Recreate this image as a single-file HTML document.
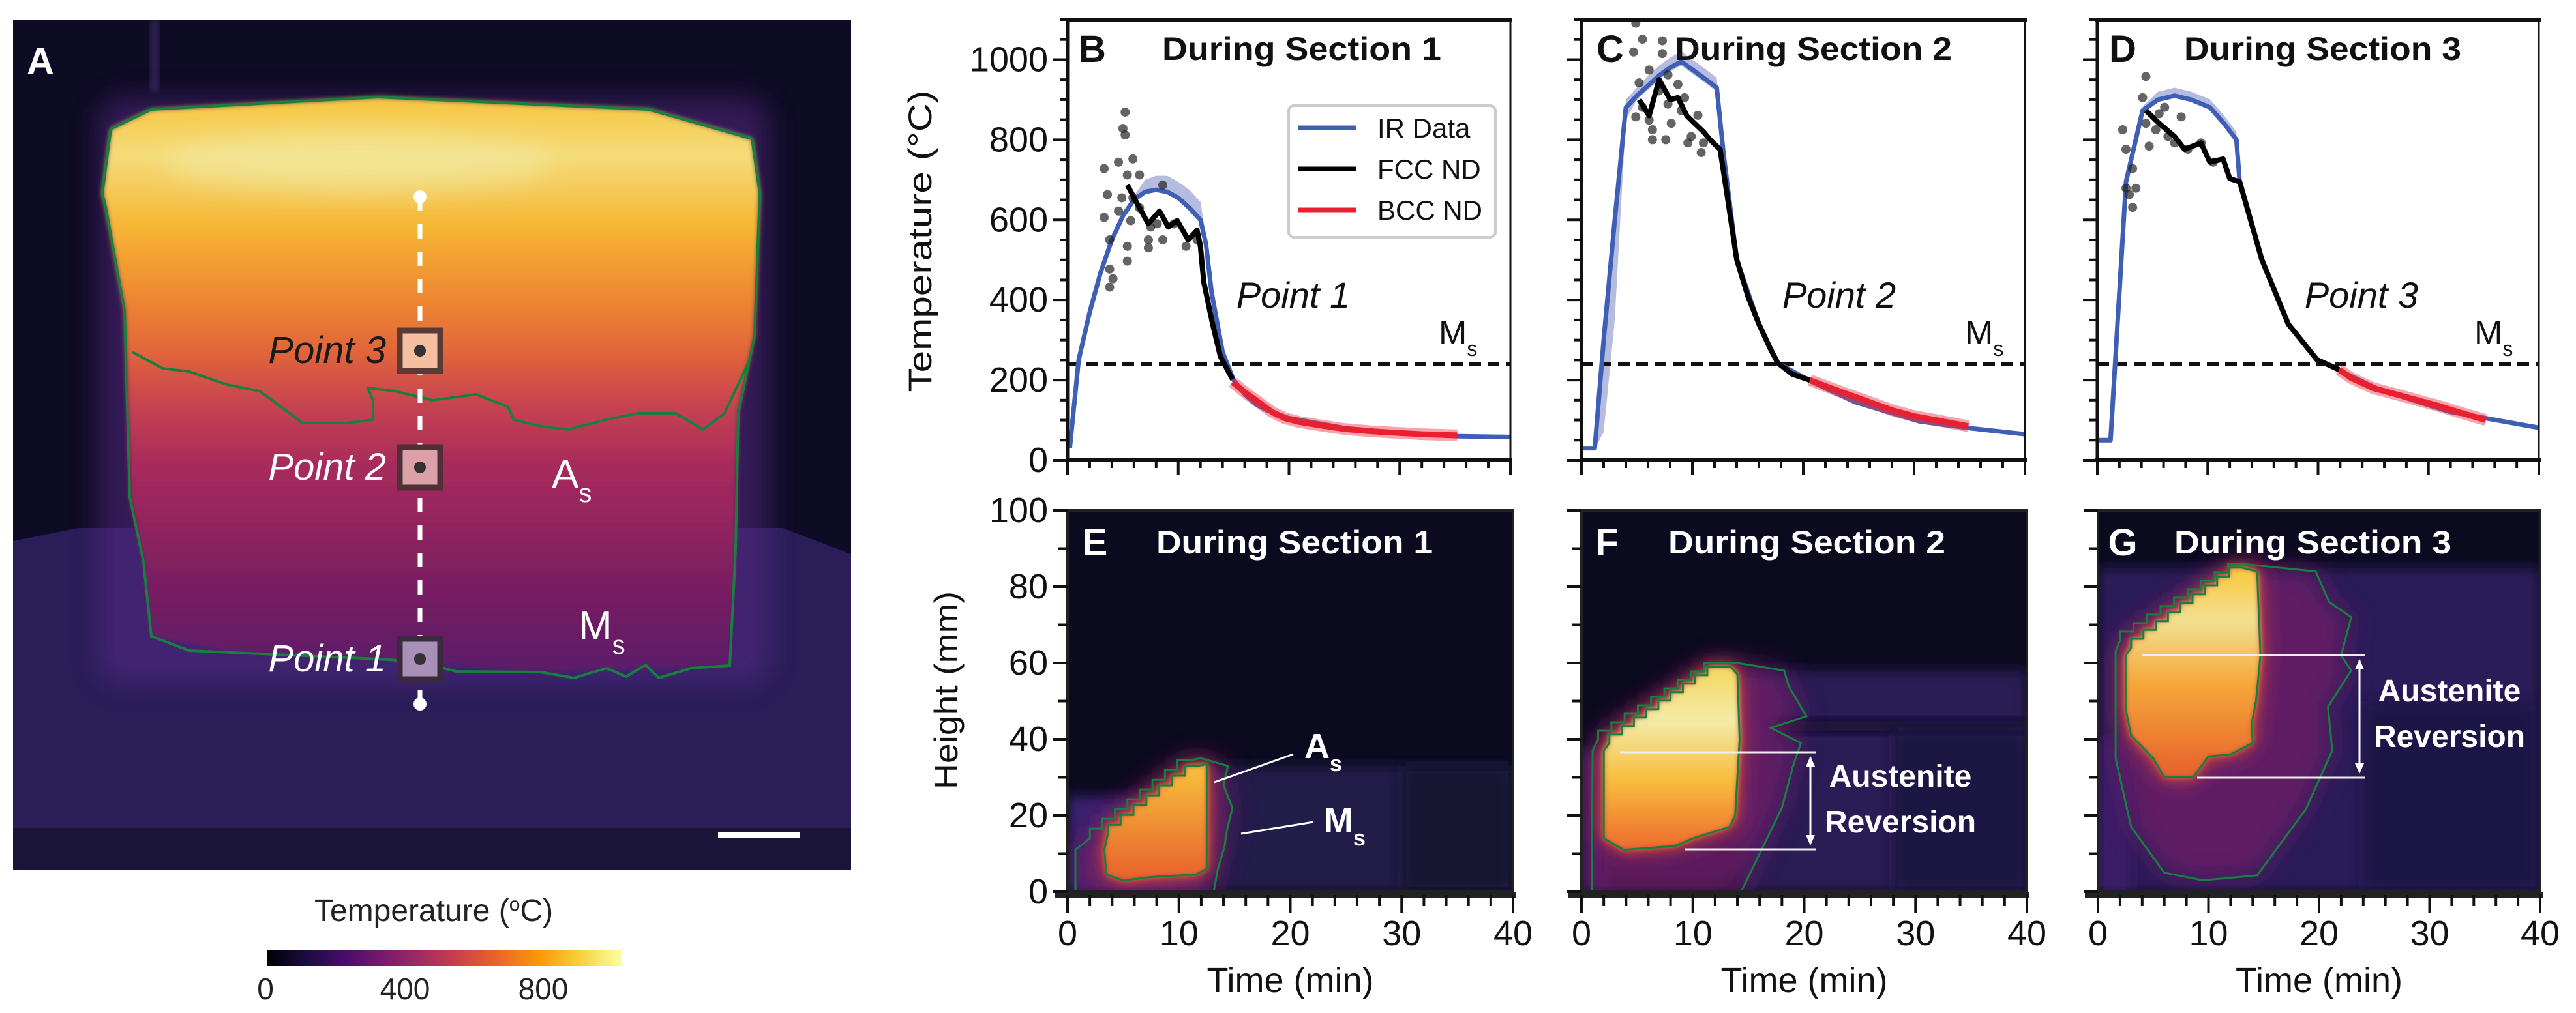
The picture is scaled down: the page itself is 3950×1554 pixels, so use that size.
<!DOCTYPE html>
<html><head><meta charset="utf-8"><title>Figure</title>
<style>
html,body{margin:0;padding:0;background:#fff;}
svg{display:block;}
text{font-family:"Liberation Sans",sans-serif;}
</style></head>
<body>
<svg id="fig" xmlns="http://www.w3.org/2000/svg" width="3950" height="1554" viewBox="0 0 3950 1554">
<defs>
  <linearGradient id="blockGrad" x1="0" y1="0" x2="0" y2="1">
    <stop offset="0" stop-color="#f6c43e"/>
    <stop offset="0.1" stop-color="#f4dc7a"/>
    <stop offset="0.22" stop-color="#f6b836"/>
    <stop offset="0.34" stop-color="#f08a30"/>
    <stop offset="0.44" stop-color="#e2663a"/>
    <stop offset="0.53" stop-color="#c84450"/>
    <stop offset="0.64" stop-color="#a82a5c"/>
    <stop offset="0.85" stop-color="#7a1e62"/>
    <stop offset="1" stop-color="#5b1a68"/>
  </linearGradient>
  <linearGradient id="cbGrad" x1="0" y1="0" x2="1" y2="0">
    <stop offset="0" stop-color="#000004"/>
    <stop offset="0.11" stop-color="#1b0c41"/>
    <stop offset="0.22" stop-color="#4a0c6b"/>
    <stop offset="0.33" stop-color="#781c6d"/>
    <stop offset="0.44" stop-color="#a52c60"/>
    <stop offset="0.55" stop-color="#cf4446"/>
    <stop offset="0.66" stop-color="#ed6925"/>
    <stop offset="0.77" stop-color="#fb9b06"/>
    <stop offset="0.88" stop-color="#f7d13d"/>
    <stop offset="1" stop-color="#fcffa4"/>
  </linearGradient>
  <linearGradient id="hotE" x1="0" y1="0" x2="0" y2="1">
    <stop offset="0" stop-color="#f8c23c"/><stop offset="1" stop-color="#e8602c"/>
  </linearGradient>
  <linearGradient id="hotF" x1="0" y1="0" x2="0" y2="1">
    <stop offset="0" stop-color="#f6d860"/><stop offset="0.3" stop-color="#f2eaa8"/>
    <stop offset="0.6" stop-color="#f8c040"/><stop offset="1" stop-color="#ee6a2c"/>
  </linearGradient>
  <linearGradient id="hotG" x1="0" y1="0" x2="0" y2="1">
    <stop offset="0" stop-color="#f8c83c"/><stop offset="0.25" stop-color="#f2e090"/>
    <stop offset="0.55" stop-color="#f6a83a"/><stop offset="1" stop-color="#e6602c"/>
  </linearGradient>
  <filter id="blur20" x="-30%" y="-30%" width="160%" height="160%"><feGaussianBlur stdDeviation="20"/></filter>
  <filter id="blur8" x="-40%" y="-40%" width="180%" height="180%"><feGaussianBlur stdDeviation="10"/></filter>
  <filter id="blur4"><feGaussianBlur stdDeviation="4"/></filter>
  <clipPath id="clipA"><rect x="20" y="30" width="1285" height="1305"/></clipPath>
  <clipPath id="clipE"><rect x="1637" y="783" width="683" height="585"/></clipPath>
  <clipPath id="clipF"><rect x="2425" y="783" width="683" height="585"/></clipPath>
  <clipPath id="clipG"><rect x="3217" y="783" width="678" height="585"/></clipPath>
</defs>

<!-- Panel A -->
<g id="panelA" clip-path="url(#clipA)">
  <rect x="20" y="30" width="1285" height="1305" fill="#0e0b24"/>
  <rect x="230" y="30" width="14" height="110" fill="#3a2c66" opacity="0.7" filter="url(#blur4)"/>
  <polygon points="20,830 120,810 1200,810 1305,850 1305,1335 20,1335" fill="#2a1d58"/>
  <rect x="20" y="1270" width="1285" height="65" fill="#1a1438"/>
  <rect x="150" y="150" width="1030" height="900" rx="40" fill="#5a2a8a" opacity="0.5" filter="url(#blur20)"/>
  <path d="M157,297 L170,198 L232,168 L580,149 L995,168 L1153,213 L1165,297 L1157,515 L1132,634 L1128,842 L1119,1021 L829,1031 L580,1011 L357,1001 L232,976 L220,862 L199,763 L191,476 L162,317 Z" fill="url(#blockGrad)" filter="url(#blur4)"/>
  <ellipse cx="550" cy="250" rx="300" ry="45" fill="#f2ecaa" opacity="0.55" filter="url(#blur20)"/>
  <path d="M157,297 L170,198 L232,168 L580,149 L995,168 L1153,213 L1165,297 L1157,515 L1132,634 L1128,842 L1119,1021 L1060,1025 L1010,1040 L990,1020 L960,1038 L930,1025 L880,1040 L829,1031 L700,1030 L640,1015 L580,1011 L357,1001 L290,998 L232,976 L220,862 L199,763 L191,476 L162,317 Z" fill="none" stroke="#17803e" stroke-width="4"/>
  <path d="M203,540 L249,565 L290,570 L348,590 L398,600 L431,624 L464,649 L531,649 L572,644 L572,614 L564,595 L605,600 L663,614 L730,605 L779,624 L788,644 L829,654 L871,659 L929,644 L978,634 L1036,634 L1078,659 L1111,634 L1148,555" fill="none" stroke="#17803e" stroke-width="4"/>
  <line x1="644" y1="302" x2="644" y2="1080" stroke="#fff" stroke-width="7" stroke-dasharray="22,20"/>
  <circle cx="644" cy="302" r="10" fill="#fff"/>
  <circle cx="644" cy="1080" r="10" fill="#fff"/>
  <g>
    <rect x="613" y="507" width="62" height="62" fill="#f5c0a0" stroke="#5a3a35" stroke-width="9"/>
    <circle cx="644" cy="538" r="9" fill="#333"/>
  </g>
  <g>
    <rect x="613" y="686" width="62" height="62" fill="#dba0a8" stroke="#4e3036" stroke-width="9"/>
    <circle cx="644" cy="717" r="9" fill="#333"/>
  </g>
  <g>
    <rect x="613" y="980" width="62" height="62" fill="#a890b8" stroke="#3a2a3e" stroke-width="9"/>
    <circle cx="644" cy="1011" r="9" fill="#333"/>
  </g>
  <text x="592" y="557" font-size="58" font-style="italic" fill="#1a1a1a" text-anchor="end">Point 3</text>
  <text x="592" y="736" font-size="58" font-style="italic" fill="#fff" text-anchor="end">Point 2</text>
  <text x="592" y="1030" font-size="58" font-style="italic" fill="#fff" text-anchor="end">Point 1</text>
  <text x="846" y="748" font-size="62" fill="#fff">A<tspan font-size="40" dy="22">s</tspan></text>
  <text x="887" y="981" font-size="62" fill="#fff">M<tspan font-size="40" dy="22">s</tspan></text>
  <rect x="1101" y="1277" width="126" height="8" fill="#fff"/>
  <text x="41" y="114" font-size="58" font-weight="bold" fill="#fff">A</text>
</g>
<g>
  <text x="665" y="1413" font-size="48" text-anchor="middle" fill="#222">Temperature (<tspan font-size="30" dy="-16">o</tspan><tspan dy="16">C)</tspan></text>
  <rect x="410" y="1457" width="544" height="25" fill="url(#cbGrad)"/>
  <text x="407" y="1533" font-size="46" text-anchor="middle" fill="#222">0</text>
  <text x="621" y="1533" font-size="46" text-anchor="middle" fill="#222">400</text>
  <text x="833" y="1533" font-size="46" text-anchor="middle" fill="#222">800</text>
</g>

<g id="charts"></g>
</svg>

<script>
// ---------- Data: temperature history (time in min, temperature in °C) ----------
const msTemp = 240;
const yTicksTemp = [0, 200, 400, 600, 800, 1000];
const xTicks = [0, 10, 20, 30, 40];
const yTicksHeight = [0, 20, 40, 60, 80, 100];

// Panel B (Point 1)
const bIrTime = [0.2,1,2,3,4,5,6,7,8,9,10,11,12,12.5,13,14,15,16,17,18,20,22,25,30,35,40];
const bIrTemp = [30,250,370,470,550,610,650,670,675,670,655,630,600,540,420,270,200,165,140,125,105,95,80,68,60,58];
const bIrUp   = [0,0,0,0,0,0,10,30,35,40,40,45,45,20,5,0,0,0,0,0,0,0,0,0,0,0];
const bIrDn   = [0,0,0,0,0,0,5,5,5,5,5,5,5,5,0,0,0,0,0,0,0,0,0,0,0,0];
const bFccTime = [5.4,6.3,7.3,8.3,9.1,9.9,10.9,11.7,12,12.3,13.1,13.8,14.9];
const bFccTemp = [687,640,590,622,582,598,550,574,534,445,340,259,202];
const bBccTime = [14.9,16,17,18.5,19.6,21,23.3,25,27.5,30,32,35.2];
const bBccTemp = [195,170,150,120,105,95,85,78,72,68,65,62];
const bDotTime = [5.2,5.0,5.2,5.9,4.6,3.3,5.4,6.5,3.6,4.9,5.9,3.3,4.6,5.7,3.8,5.4,7.5,8.6,7.3,8.6,9.6,10.7,3.8,4.1,3.8,5.4,7.3,11.7,8.1,6.5];
const bDotTemp = [869,828,812,752,744,728,712,712,663,655,655,606,622,598,550,534,582,687,550,550,590,534,477,453,432,497,530,550,590,630];

// Panel C (Point 2)
const cIrTime = [0,1.2,2,3,4,5,6,7,8,9,10,11,12.2,12.8,14,16,17.7,20.6,24.7,30.5,35,40];
const cIrTemp = [30,30,300,600,880,910,935,960,980,995,975,955,930,768,501,340,243,198,145,97,80,65];
const cIrUp   = [0,0,0,0,20,20,25,25,25,25,25,25,25,10,0,0,0,0,0,0,0,0];
const cIrDn   = [0,0,230,250,30,10,10,10,10,10,10,10,10,5,0,0,0,0,0,0,0,0];
const cFccTime = [5.2,6.1,7,8,8.7,9.5,10.2,11,11.6,12.5,13.2,14,15,16,17,17.7,19,20.6];
const cFccTemp = [900,860,950,900,905,860,841,820,800,776,650,501,410,340,280,243,215,200];
const cBccTime = [20.6,22,24,26,28,30,32,34.9];
const cBccTemp = [200,185,165,145,125,110,100,85];
const cDotTime = [4.9,5.5,7.3,4.7,7.3,6.1,7.8,5.2,7.0,8.7,5.5,7.8,6.1,9.0,4.9,6.4,8.1,10.5,6.4,9.9,11.0,9.6,10.8,7.6,9.3];
const cDotTemp = [1091,1051,1047,1019,1015,974,962,942,922,938,881,889,849,873,857,825,841,861,800,808,792,792,768,800,905];

// Panel D (Point 3)
const dIrTime = [0,1.2,2.6,4.1,5.5,7,8.5,10.2,11.5,12.6,12.9,14.9,17.3,19.9,25.4,31.9,40];
const dIrTemp = [50,50,695,873,900,910,900,881,840,800,695,501,340,251,178,121,81];
const dIrUp   = [0,0,0,10,20,20,20,20,20,20,0,0,0,0,0,0,0];
const dIrDn   = [0,0,0,5,5,5,5,5,5,5,0,0,0,0,0,0,0];
const dFccTime = [4.4,5.6,7,7.9,9.4,10.2,11.4,12,12.9,14.9,17.3,19.9,21.9];
const dFccTemp = [873,841,808,776,792,744,752,703,695,501,340,251,226];
const dBccTime = [21.9,23,25,27,29,31,33,35.2];
const dBccTemp = [226,205,180,165,150,135,118,100];
const dDotTime = [4.4,4.1,2.3,4.4,5.6,2.6,4.7,3.2,2.6,3.5,2.9,3.2,6.4,7.6,7.0,8.2,9.4,10.5,5.3,6.1];
const dDotTemp = [958,905,825,841,865,776,784,728,679,679,663,631,808,857,792,776,792,744,825,881];

const NS = "http://www.w3.org/2000/svg";
const root = document.getElementById('charts');
function mk(tag, attrs, parent){
  const e = document.createElementNS(NS, tag);
  for (const k in attrs) e.setAttribute(k, attrs[k]);
  (parent||root).appendChild(e);
  return e;
}

const TOP_Y0 = 706, TOP_YT = 30, TMAX = 1100;
function tempAxis(x0, x1){
  return {
    x: t => x0 + (t/40)*(x1-x0),
    y: v => TOP_Y0 - (v/TMAX)*(TOP_Y0-TOP_YT)
  };
}
function pathFrom(ts, vs, ax){
  return ts.map((t,i)=>(i?'L':'M')+ax.x(t).toFixed(1)+','+ax.y(vs[i]).toFixed(1)).join(' ');
}

function tempPanel(cfg){
  const g = mk('g', {});
  
  
  const ax = tempAxis(cfg.x0, cfg.x1);
  let d = '';
  cfg.irT.forEach((t,i)=>{ d += (i?'L':'M') + ax.x(t)+','+ax.y(cfg.irV[i]+cfg.up[i]); });
  for (let i=cfg.irT.length-1;i>=0;i--) d += 'L'+ax.x(cfg.irT[i])+','+ax.y(Math.max(0,cfg.irV[i]-cfg.dn[i]));
  const band = mk('path', {d:d+'Z', fill:'#5a6ab8', opacity:'0.45'}, g);
  
  
  const ms = mk('line', {x1:cfg.x0, x2:cfg.x1, y1:ax.y(msTemp), y2:ax.y(msTemp), stroke:'#111', 'stroke-width':5, 'stroke-dasharray':'18,10'}, g);
  
  
  const ir = mk('path', {d:pathFrom(cfg.irT, cfg.irV, ax), fill:'none', stroke:'#3f5fb5', 'stroke-width':7, 'stroke-linejoin':'round'}, g);
  
  
  cfg.dotT.forEach((t,i)=>{
    const c = mk('circle', {cx:ax.x(t), cy:ax.y(cfg.dotV[i]), r:7, fill:'#222', opacity:'0.7'}, g);
    
    
  });
  const rg = mk('path', {d:pathFrom(cfg.bccT, cfg.bccV, ax), fill:'none', stroke:'#ee3344', 'stroke-width':18, opacity:'0.45', 'stroke-linejoin':'round'}, g);
  
  
  const r = mk('path', {d:pathFrom(cfg.bccT, cfg.bccV, ax), fill:'none', stroke:'#e8202f', 'stroke-width':9, 'stroke-linejoin':'round'}, g);
  
  
  const k = mk('path', {d:pathFrom(cfg.fccT, cfg.fccV, ax), fill:'none', stroke:'#000', 'stroke-width':8, 'stroke-linejoin':'round'}, g);
  
  
  const fr = mk('rect', {x:cfg.x0, y:TOP_YT, width:cfg.x1-cfg.x0, height:TOP_Y0-TOP_YT, fill:'none', stroke:'#111', 'stroke-width':3}, g);
  
  
  mk('line', {x1:cfg.x0-3, x2:cfg.x1+3, y1:TOP_YT, y2:TOP_YT, stroke:'#111', 'stroke-width':6}, g);
  mk('line', {x1:cfg.x0-3, x2:cfg.x1+3, y1:TOP_Y0, y2:TOP_Y0, stroke:'#111', 'stroke-width':6}, g);
  mk('line', {x1:cfg.x0, x2:cfg.x0, y1:TOP_YT, y2:TOP_Y0, stroke:'#111', 'stroke-width':5}, g);
  for (let v=0; v<=1100; v+=50){
    const major = v%200===0;
    mk('line', {x1:cfg.x0-(major?22:12), x2:cfg.x0, y1:ax.y(v), y2:ax.y(v), stroke:'#111', 'stroke-width':4}, g);
  }
  if (cfg.yLabels){
    yTicksTemp.forEach(v=>{
      const t = mk('text', {x:cfg.x0-30, y:ax.y(v)+18, 'font-size':54, 'text-anchor':'end', fill:'#111'}, g);
      
      
      t.textContent = v;
    });
  }
  for (let t=0; t<=40; t+=2){
    const major = t%10===0;
    mk('line', {x1:ax.x(t), x2:ax.x(t), y1:TOP_Y0, y2:TOP_Y0+(major?22:12), stroke:'#111', 'stroke-width':4}, g);
  }
  const L = mk('text', {x:cfg.letterX, y:95, 'font-size':58, 'font-weight':'bold', 'text-anchor':'middle', fill:'#111'}, g);
  
  
  L.textContent = cfg.letter;
  const T = mk('text', {x:cfg.titleX, y:92, 'font-size':50, 'font-weight':'bold', fill:'#111', textLength:cfg.titleW, lengthAdjust:'spacingAndGlyphs'}, g);
  
  
  T.textContent = cfg.title;
  const P = mk('text', {x:cfg.pointX, y:472, 'font-size':56, 'font-style':'italic', 'text-anchor':'middle', fill:'#111'}, g);
  
  
  P.textContent = cfg.point;
  const M = mk('text', {x:cfg.msX, y:528, 'font-size':52, fill:'#111'}, g);
  
  
  M.innerHTML = 'M<tspan font-size="32" dy="18">s</tspan>';
}

tempPanel({name:'panel-b-temperature', x0:1637, x1:2316, irT:bIrTime, irV:bIrTemp, up:bIrUp, dn:bIrDn,
  fccT:bFccTime, fccV:bFccTemp, bccT:bBccTime, bccV:bBccTemp, dotT:bDotTime, dotV:bDotTemp,
  yLabels:true, letter:'B', letterX:1675, title:'During Section 1', titleX:1782, titleW:428, point:'Point 1', pointX:1983, msX:2206});
tempPanel({name:'panel-c-temperature', x0:2425, x1:3105, irT:cIrTime, irV:cIrTemp, up:cIrUp, dn:cIrDn,
  fccT:cFccTime, fccV:cFccTemp, bccT:cBccTime, bccV:cBccTemp, dotT:cDotTime, dotV:cDotTemp,
  yLabels:false, letter:'C', letterX:2469, title:'During Section 2', titleX:2568, titleW:425, point:'Point 2', pointX:2820, msX:3013});
tempPanel({name:'panel-d-temperature', x0:3216, x1:3893, irT:dIrTime, irV:dIrTemp, up:dIrUp, dn:dIrDn,
  fccT:dFccTime, fccV:dFccTemp, bccT:dBccTime, bccV:dBccTemp, dotT:dDotTime, dotV:dDotTemp,
  yLabels:false, letter:'D', letterX:3255, title:'During Section 3', titleX:3349, titleW:425, point:'Point 3', pointX:3621, msX:3794});

const yt = mk('text', {x:0, y:0, transform:'translate(1428,370) rotate(-90)', 'font-size':50, 'text-anchor':'middle', fill:'#111', textLength:463, lengthAdjust:'spacingAndGlyphs'});


yt.textContent = 'Temperature (°C)';

const lg = mk('g', {});


mk('rect', {x:1976, y:162, width:317, height:202, rx:8, fill:'#fff', stroke:'#ccc', 'stroke-width':4}, lg);
const legendNames = ['IR Data','FCC ND','BCC ND'];
const legendColors = ['#3f5fb5','#000','#e8202f'];
legendNames.forEach((n,i)=>{
  const y = 196 + i*63;
  const ln = mk('line', {x1:1990, x2:2080, y1:y, y2:y, stroke:legendColors[i], 'stroke-width':7}, lg);
  
  
  const tx = mk('text', {x:2112, y:y+15, 'font-size':42, fill:'#111'}, lg);
  
  
  tx.textContent = n;
});

// ---------- Heatmaps ----------
const HB_Y0 = 1368, HB_YT = 783;
function hAxis(x0, x1){
  return { x: t => x0 + (t/40)*(x1-x0), y: h => HB_Y0 - (h/100)*(HB_Y0-HB_YT) };
}
function stairs(p0, p1, n){
  const pts = [];
  const dt = (p1[0]-p0[0])/n, dh = (p1[1]-p0[1])/n;
  for (let i=0;i<n;i++){
    pts.push([p0[0]+i*dt, p0[1]+i*dh]);
    pts.push([p0[0]+i*dt, p0[1]+(i+1)*dh]);
  }
  pts.push([p1[0], p1[1]]);
  return pts;
}
function poly(pts, ax){ return pts.map((p,i)=>(i?'L':'M')+ax.x(p[0]).toFixed(1)+','+ax.y(p[1]).toFixed(1)).join(' ')+'Z'; }

function heatPanel(cfg){
  const g = mk('g', {});
  
  
  const ax = hAxis(cfg.x0, cfg.x1);
  const c = mk('g', {'clip-path':'url(#'+cfg.clip+')'}, g);
  mk('rect', {x:cfg.x0, y:HB_YT, width:cfg.x1-cfg.x0+8, height:HB_Y0-HB_YT, fill:'#0b0a1f'}, c);
  cfg.bg.forEach(b=>{
    mk('rect', {x:ax.x(b[0]), y:ax.y(b[3]), width:ax.x(b[2])-ax.x(b[0]), height:ax.y(b[1])-ax.y(b[3]), fill:b[4], filter:'url(#blur8)'}, c);
  });
  const outerD = poly(cfg.outer, ax), hotD = poly(cfg.hot, ax);
  mk('path', {d:outerD, fill:'#6a1c68', opacity:'0.85', filter:'url(#blur20)'}, c);
  mk('path', {d:hotD, fill:'#b83a50', filter:'url(#blur20)'}, c);
  mk('path', {d:hotD, fill:'#d8482e', filter:'url(#blur8)'}, c);
  mk('path', {d:hotD, fill:'url(#'+cfg.grad+')', filter:'url(#blur4)'}, c);
  const oc = mk('path', {d:outerD, fill:'none', stroke:'#17803e', 'stroke-width':3}, c);
  
  
  const hc = mk('path', {d:hotD, fill:'none', stroke:'#17803e', 'stroke-width':3}, c);
  
  
  mk('rect', {x:cfg.x0, y:HB_YT, width:cfg.x1-cfg.x0, height:HB_Y0-HB_YT, fill:'none', stroke:'#222', 'stroke-width':4}, g);
  mk('line', {x1:cfg.x0-20, x2:cfg.x1+4, y1:HB_Y0+5, y2:HB_Y0+5, stroke:'#222', 'stroke-width':8}, g);
  for (let h=0; h<=100; h+=10){
    mk('line', {x1:cfg.x0-(h%20===0?22:14), x2:cfg.x0, y1:ax.y(h), y2:ax.y(h), stroke:'#111', 'stroke-width':4}, g);
  }
  for (let t=0; t<=40; t+=2){
    mk('line', {x1:ax.x(t), x2:ax.x(t), y1:HB_Y0+5, y2:HB_Y0+(t%10===0?32:22), stroke:'#111', 'stroke-width':4}, g);
  }
  xTicks.forEach(t=>{
    const tx = mk('text', {x:ax.x(t), y:1450, 'font-size':54, 'text-anchor':'middle', fill:'#111'}, g);
    
    
    tx.textContent = t;
  });
  if (cfg.yLabels){
    yTicksHeight.forEach(h=>{
      const tx = mk('text', {x:cfg.x0-30, y:ax.y(h)+18, 'font-size':54, 'text-anchor':'end', fill:'#111'}, g);
      
      
      tx.textContent = h;
    });
  }
  const xt = mk('text', {x:(cfg.x0+cfg.x1)/2, y:1522, 'font-size':54, 'text-anchor':'middle', fill:'#111'}, g);
  
  
  xt.textContent = 'Time (min)';
  const L = mk('text', {x:cfg.letterX, y:852, 'font-size':58, 'font-weight':'bold', 'text-anchor':'middle', fill:'#fff'}, g);
  
  
  L.textContent = cfg.letter;
  const T = mk('text', {x:cfg.titleX, y:849, 'font-size':50, 'font-weight':'bold', fill:'#fff', textLength:cfg.titleW, lengthAdjust:'spacingAndGlyphs'}, g);
  
  
  T.textContent = cfg.title;
  return {g, ax};
}

heatPanel({name:'panel-e-heatmap', clip:'clipE', x0:1637, x1:2320, yLabels:true, grad:'hotE',
  letter:'E', letterX:1679, title:'During Section 1', titleX:1773, titleW:424,
  bg:[[0,0,12.5,25,'#3b2470'],[12,0,40,33,'#221a4a'],[30,0,40,33,'#151232']],
  outer:[[0.7,-2],[0.7,11]].concat(stairs([2,14],[11,34.5],8)).concat([[12,35],[14.4,33],[14,28],[14.8,22],[14.3,16],[14.1,12],[13.5,6],[13,-2]]),
  hot:[[5,3],[3.5,4.5],[3.3,11]].concat(stairs([3.6,15],[11.7,33],7)).concat([[12.5,33.5],[12.5,6],[11.5,4.5],[8,4]])});
heatPanel({name:'panel-f-heatmap', clip:'clipF', x0:2425, x1:3108, yLabels:false, grad:'hotF',
  letter:'F', letterX:2464, title:'During Section 2', titleX:2558, titleW:425,
  bg:[[0,0,2.5,37,'#4a1a60'],[14,0,40,58,'#2a1d55'],[17,42,40,45,'#0f0b25'],[28,0,40,42,'#1c1642']],
  outer:[[0.9,-2],[1,37]].concat(stairs([1.5,40],[12.2,60],9)).concat([[14,60],[18.2,58],[18.6,54],[20.2,46],[17,43],[19.7,39],[19,33],[18,22],[16,10],[14,-2]]),
  hot:[[2,14],[2,37]].concat(stairs([2.5,39],[12.4,59],9)).concat([[13.4,59],[14,57],[14.2,40],[13.8,20],[13.3,17],[10,14],[8.4,12],[3.8,11]])});
heatPanel({name:'panel-g-heatmap', clip:'clipG', x0:3217, x1:3895, yLabels:false, grad:'hotG',
  letter:'G', letterX:3255, title:'During Section 3', titleX:3334, titleW:425,
  bg:[[0,0,40,85,'#2a1d58'],[24,0,40,50,'#1e1646'],[0,0,3,40,'#3a1e66']],
  outer:[[1.6,35],[1.6,63]].concat(stairs([2,66],[13,86],9)).concat([[19.7,84],[20.9,76],[22.9,72],[22,62],[22.9,58],[20.8,48.5],[21.2,37],[18.8,21.6],[14.4,4.3],[9.5,3],[6,5],[3,17]]),
  hot:[[2.5,48],[2.5,62]].concat(stairs([3,64],[13,85],9)).concat([[14.4,84],[14.7,62],[14.3,50],[13.9,44],[14,39],[12,36],[10,35.5],[8.6,30],[6,30],[5,35],[3,41]])});

const ht = mk('text', {x:0, y:0, transform:'translate(1468,1059) rotate(-90)', 'font-size':50, 'text-anchor':'middle', fill:'#111', textLength:304, lengthAdjust:'spacingAndGlyphs'});


ht.textContent = 'Height (mm)';

function annLine(x1,y1,x2,y2,name){
  const l = mk('line', {x1,y1,x2,y2,stroke:'#fff','stroke-width':3});
  
  
}
annLine(1862,1200,1983,1157,'as-leader-line');
annLine(1903,1279,2014,1261,'ms-leader-line');
const eas = mk('text', {x:2000, y:1163, 'font-size':54, 'font-weight':'bold', fill:'#fff'});


eas.innerHTML = 'A<tspan font-size="34" dy="20">s</tspan>';
const ems = mk('text', {x:2030, y:1277, 'font-size':54, 'font-weight':'bold', fill:'#fff'});


ems.innerHTML = 'M<tspan font-size="34" dy="20">s</tspan>';

function reversion(xa1, xa2, yTop, xb1, xb2, yBot, arrowX, textX, textY1, name){
  const g = mk('g', {});
  
  
  mk('line', {x1:xa1, x2:xa2, y1:yTop, y2:yTop, stroke:'#eee', 'stroke-width':3}, g);
  mk('line', {x1:xb1, x2:xb2, y1:yBot, y2:yBot, stroke:'#eee', 'stroke-width':3}, g);
  mk('line', {x1:arrowX, x2:arrowX, y1:yTop+8, y2:yBot-8, stroke:'#fff', 'stroke-width':3}, g);
  mk('polygon', {points:`${arrowX-7},${yTop+22} ${arrowX+7},${yTop+22} ${arrowX},${yTop+6}`, fill:'#fff'}, g);
  mk('polygon', {points:`${arrowX-7},${yBot-22} ${arrowX+7},${yBot-22} ${arrowX},${yBot-6}`, fill:'#fff'}, g);
  const t1 = mk('text', {x:textX, y:textY1, 'font-size':48, 'font-weight':'bold', 'text-anchor':'middle', fill:'#fff'}, g);
  t1.textContent = 'Austenite';
  const t2 = mk('text', {x:textX, y:textY1+70, 'font-size':48, 'font-weight':'bold', 'text-anchor':'middle', fill:'#fff'}, g);
  t2.textContent = 'Reversion';
}
reversion(2484, 2785, 1154, 2583, 2785, 1303, 2776, 2914, 1207, 'austenite-reversion-f');
reversion(3285, 3626, 1005, 3369, 3626, 1193, 3618, 3756, 1076, 'austenite-reversion-g');
</script>
</body></html>
